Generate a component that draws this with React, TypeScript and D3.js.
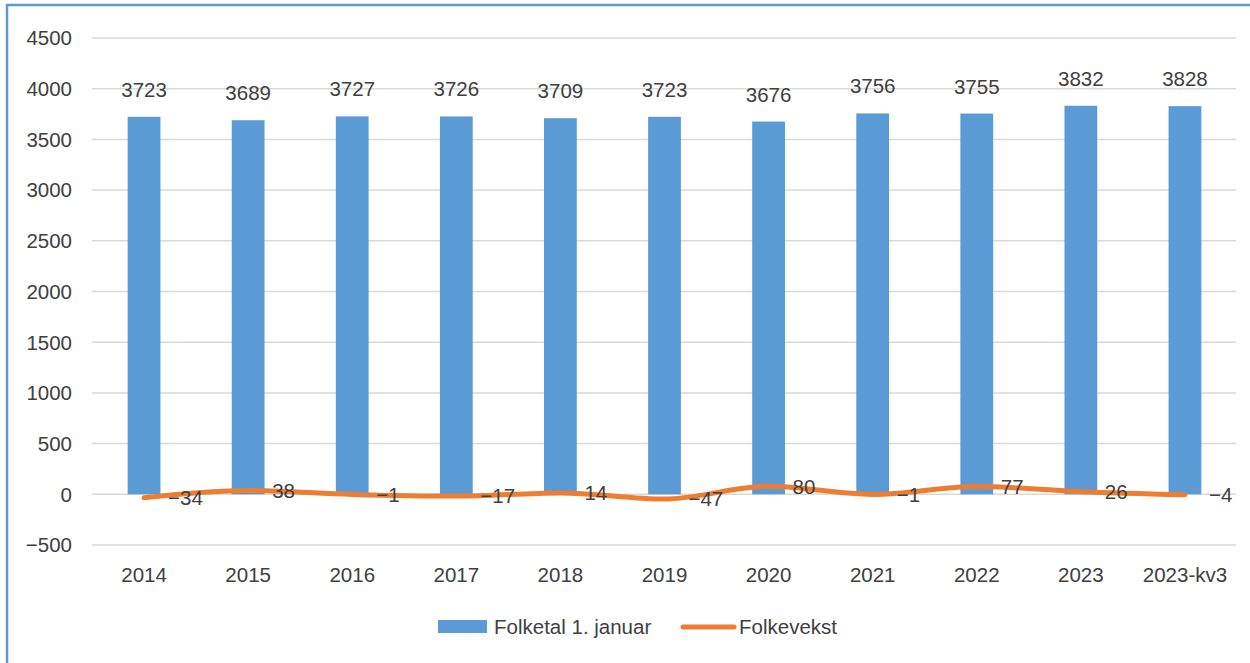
import React from "react";
import * as d3 from "d3";

const categories = ["2014", "2015", "2016", "2017", "2018", "2019", "2020", "2021", "2022", "2023", "2023-kv3"];
const folketal = [3723, 3689, 3727, 3726, 3709, 3723, 3676, 3756, 3755, 3832, 3828];
const folkevekst = [-34, 38, -1, -17, 14, -47, 80, -1, 77, 26, -4];
const yTicks = [-500, 0, 500, 1000, 1500, 2000, 2500, 3000, 3500, 4000, 4500];

const W = 1250;
const H = 663;
const FONT = "'Liberation Sans', Arial, sans-serif";
const TXT = "#404040";
const BLUE = "#5B9BD5";
const ORANGE = "#ED7D31";

const fmt = (v: number) => (v < 0 ? "\u2212" + Math.abs(v) : String(v));

export default function App() {
  const x = d3.scaleBand<string>().domain(categories).range([92, 1237]).paddingInner(0).paddingOuter(0);
  const y = d3.scaleLinear().domain([-500, 4500]).range([545, 38]);
  const bw = x.bandwidth() * 0.315;
  const cx = (c: string) => (x(c) as number) + x.bandwidth() / 2;

  const line = d3
    .line<number>()
    .x((_, i) => cx(categories[i]))
    .y((d) => y(d))
    .curve(d3.curveMonotoneX);

  return (
    <svg width={W} height={H} style={{ display: "block", position: "absolute", left: 0, top: 0 }} fontFamily={FONT}>
      <rect x={0} y={0} width={W} height={H} fill="#fff" />
      <rect x={7} y={5} width={W + 10} height={H + 10} fill="none" stroke={BLUE} strokeWidth={2.5} />
      {yTicks.map((t) => (
        <g key={t}>
          <line x1={92} x2={1236} y1={y(t)} y2={y(t)} stroke="#D9D9D9" strokeWidth={1.5} />
          <text x={72} y={y(t)} dy="0.36em" textAnchor="end" fontSize={20.5} fill={TXT}>
            {fmt(t)}
          </text>
        </g>
      ))}
      {categories.map((c, i) => (
        <g key={c}>
          <rect x={cx(c) - bw / 2} y={y(folketal[i])} width={bw} height={y(0) - y(folketal[i])} fill={BLUE} />
          <text x={cx(c)} y={y(folketal[i]) - 20} textAnchor="middle" fontSize={20.5} fill={TXT}>
            {fmt(folketal[i])}
          </text>
          <text x={cx(c)} y={582} textAnchor="middle" fontSize={20.5} fill={TXT}>
            {c}
          </text>
        </g>
      ))}
      <path d={line(folkevekst) || ""} fill="none" stroke={ORANGE} strokeWidth={5} strokeLinecap="round" strokeLinejoin="round" />
      {categories.map((c, i) => (
        <text key={"l" + c} x={cx(c) + 24} y={y(folkevekst[i])} dy="0.36em" fontSize={20.5} fill={TXT}>
          {fmt(folkevekst[i])}
        </text>
      ))}
      <rect x={438} y={620} width={49} height={13} fill={BLUE} />
      <text x={494} y={627} dy="0.36em" fontSize={20.5} fill={TXT}>
        Folketal 1. januar
      </text>
      <line x1={683} x2={734} y1={627} y2={627} stroke={ORANGE} strokeWidth={5} strokeLinecap="round" />
      <text x={739} y={627} dy="0.36em" fontSize={20.5} fill={TXT}>
        Folkevekst
      </text>
    </svg>
  );
}
